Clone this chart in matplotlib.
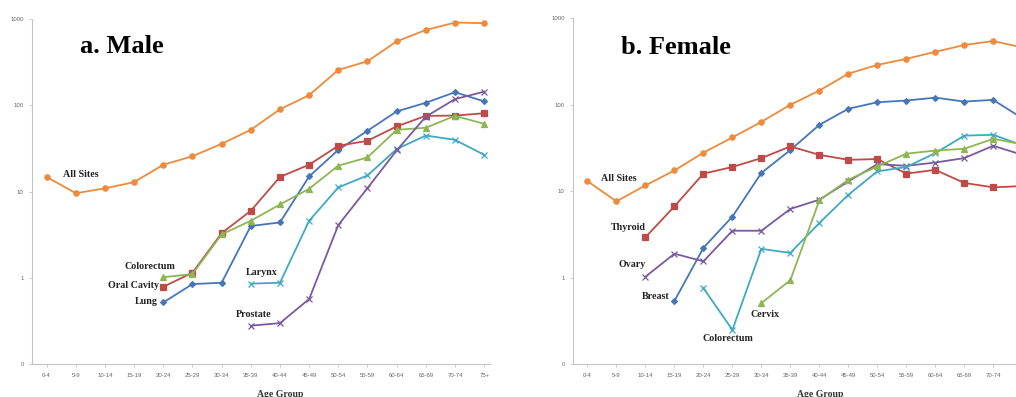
import matplotlib
matplotlib.use("Agg")
import matplotlib.pyplot as plt
import numpy as np

nan = np.nan

age_groups = ["0-4", "5-9", "10-14", "15-19", "20-24", "25-29", "30-34", "35-39",
              "40-44", "45-49", "50-54", "55-59", "60-64", "65-69", "70-74", "75+"]

# Male incidence per 100,000
male_all_sites = [14.8, 9.6, 10.9, 12.9, 20.5, 25.7, 35.8, 52, 90, 131, 257, 324, 550, 746, 910, 894]
male_lung = [nan, nan, nan, nan, 0.52, 0.85, 0.88, 4.0, 4.4, 15, 30.5, 50.7, 85, 107, 142, 111]
male_oral = [nan, nan, nan, nan, 0.79, 1.15, 3.3, 6.0, 14.8, 20.5, 34, 38.8, 57, 75.5, 76, 81]
male_colorectum = [nan, nan, nan, nan, 1.02, 1.11, 3.2, 4.6, 7.1, 10.8, 20, 24.9, 52, 55, 75.5, 61]
male_larynx = [nan, nan, nan, nan, nan, nan, nan, 0.86, 0.88, 4.6, 11.2, 15.4, 31.1, 44.7, 39.8, 26.7]
male_prostate = [nan, nan, nan, nan, nan, nan, nan, 0.28, 0.30, 0.57, 4.1, 11, 30, 74, 118, 144]

# Female incidence per 100,000
female_all_sites = [13.1, 7.65, 11.7, 17.4, 28, 41.9, 63.5, 100, 146, 229, 289, 340, 409, 491, 546, 460]
female_breast = [nan, nan, nan, 0.54, 2.22, 5.1, 16.3, 30, 58.6, 90, 107, 112, 121, 109, 114, 70]
female_thyroid = [nan, nan, 2.94, 6.7, 16, 19.1, 24.2, 33, 26.4, 23.1, 23.6, 16, 17.7, 12.5, 11.1, 11.5]
female_ovary = [nan, nan, 1.03, 1.9, 1.55, 3.5, 3.5, 6.25, 8.0, 13, 20.6, 19.7, 21.5, 24.2, 33.6, 26.4]
female_colorectum = [nan, nan, nan, nan, 0.76, 0.25, 2.16, 1.94, 4.3, 9.1, 17, 19.1, 27.6, 44, 45, 34]
female_cervix = [nan, nan, nan, nan, nan, nan, 0.51, 0.94, 7.85, 13.6, 19.4, 27.2, 29.6, 31, 40.4, 35]

ORANGE = "#EE8A3C"
BLUE = "#4676B8"
RED = "#BE4B48"
GREEN = "#8DB654"
AQUA = "#3FA9C4"
PURPLE = "#7A5A9E"

LABEL_FONT = dict(family="Liberation Serif", fontweight="bold", fontsize=7.2, color="#222222")


def _series(ax, values, color, marker, ms=3.8):
    x = np.arange(len(age_groups))
    ax.plot(x, values, color=color, marker=marker, markersize=ms, linewidth=1.3,
            markeredgewidth=0.9)


def _style_axes(ax, title, title_x):
    ax.set_yscale("log")
    ax.set_ylim(0.1, 1000)
    ax.set_xlim(-0.5, 15.2)
    ax.set_yticks([0.1, 1, 10, 100, 1000])
    ax.set_yticklabels(["0", "1", "10", "100", "1000"])
    ax.minorticks_off()
    ax.set_xticks(range(len(age_groups)))
    ax.set_xticklabels(age_groups)
    for side in ("top", "right"):
        ax.spines[side].set_visible(False)
    for side in ("left", "bottom"):
        ax.spines[side].set_color("#c4c4c4")
        ax.spines[side].set_linewidth(0.8)
    ax.tick_params(axis="both", colors="#c4c4c4", labelcolor="#666666", length=2.5,
                   width=0.6, labelsize=4.3)
    ax.tick_params(axis="x", pad=4)
    for lbl in ax.get_xticklabels() + ax.get_yticklabels():
        lbl.set_family("Liberation Sans")
    ax.set_xlabel("Age Group", family="Liberation Serif", fontweight="bold",
                  fontsize=7, color="#333333")
    ax.xaxis.set_label_coords(title_x, -0.074)
    ax.text(0.105, 0.92 if title.startswith("a") else 0.915, title, transform=ax.transAxes,
            family="Liberation Serif", fontweight="bold", fontsize=19, ha="left", va="center")


fig = plt.figure(figsize=(10.16, 3.97), dpi=100)

# a. Male
ax1 = fig.add_axes([32 / 1016, 1 - 364.3 / 397, 458 / 1016, 345.3 / 397])
_series(ax1, male_all_sites, ORANGE, "o")
_series(ax1, male_lung, BLUE, "D", ms=3)
_series(ax1, male_oral, RED, "s")
_series(ax1, male_colorectum, GREEN, "^")
_series(ax1, male_larynx, AQUA, "x")
_series(ax1, male_prostate, PURPLE, "x")
_style_axes(ax1, "a. Male", 0.541)
ax1.text(0.55, 16, "All Sites", ha="left", va="center", **LABEL_FONT)
ax1.text(4.4, 1.36, "Colorectum", ha="right", va="center", **LABEL_FONT)
ax1.text(3.85, 0.82, "Oral Cavity", ha="right", va="center", **LABEL_FONT)
ax1.text(3.8, 0.54, "Lung", ha="right", va="center", **LABEL_FONT)
ax1.text(6.83, 1.17, "Larynx", ha="left", va="center", **LABEL_FONT)
ax1.text(6.5, 0.38, "Prostate", ha="left", va="center", **LABEL_FONT)

# b. Female (axis runs past the right edge of the image)
ax2 = fig.add_axes([573 / 1016, 1 - 364.3 / 397, 455 / 1016, 346 / 397])
_series(ax2, female_all_sites, ORANGE, "o")
_series(ax2, female_breast, BLUE, "D", ms=3)
_series(ax2, female_thyroid, RED, "s")
_series(ax2, female_ovary, PURPLE, "x")
_series(ax2, female_colorectum, AQUA, "x")
_series(ax2, female_cervix, GREEN, "^")
_style_axes(ax2, "b. Female", 0.543)
ax2.text(0.46, 14.2, "All Sites", ha="left", va="center", **LABEL_FONT)
ax2.text(2.0, 3.77, "Thyroid", ha="right", va="center", **LABEL_FONT)
ax2.text(2.0, 1.42, "Ovary", ha="right", va="center", **LABEL_FONT)
ax2.text(2.84, 0.61, "Breast", ha="right", va="center", **LABEL_FONT)
ax2.text(5.64, 0.38, "Cervix", ha="left", va="center", **LABEL_FONT)
ax2.text(3.96, 0.2, "Colorectum", ha="left", va="center", **LABEL_FONT)

fig.savefig("out.png", dpi=100)
plt.close(fig)
